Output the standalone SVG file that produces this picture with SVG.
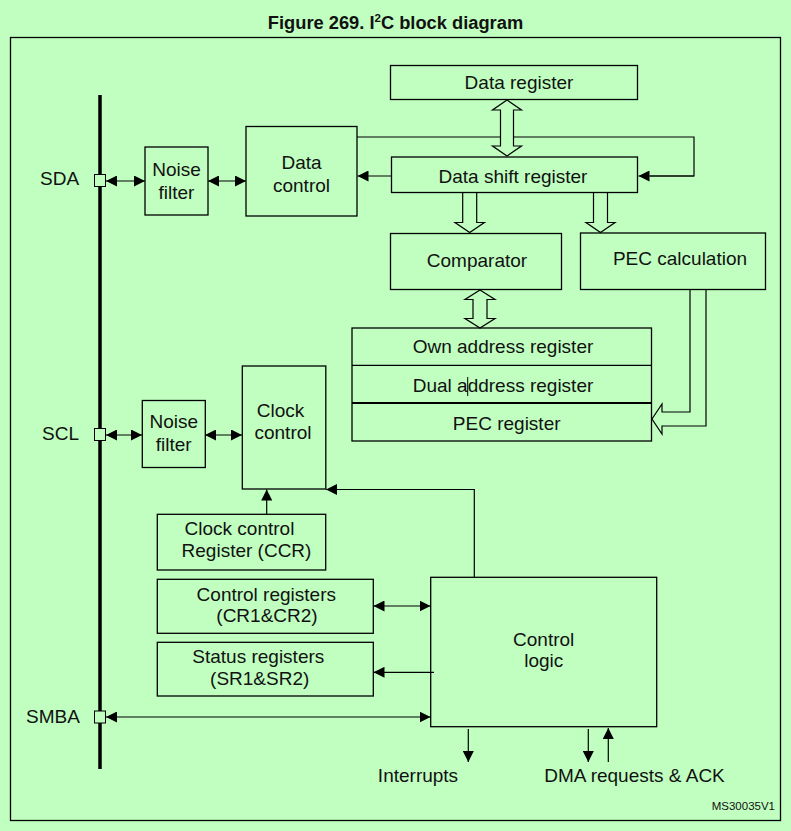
<svg xmlns="http://www.w3.org/2000/svg" width="791" height="831" viewBox="0 0 791 831">
<defs>
<style>
.bx{fill:none;stroke:#000;stroke-width:1.3}
.ln{fill:none;stroke:#000;stroke-width:1.2}
.ha{fill:#C0FFC0;stroke:#000;stroke-width:1.2;stroke-linejoin:miter}
.t{font-family:"Liberation Sans",Arial,sans-serif;font-size:19px;fill:#111;text-anchor:middle}
.l{font-family:"Liberation Sans",Arial,sans-serif;font-size:19px;fill:#111}
.pin{fill:#C0FFC0;stroke:#000;stroke-width:1}
</style>
<marker id="ah" viewBox="0 0 10 10" refX="10" refY="5" markerUnits="userSpaceOnUse" markerWidth="11" markerHeight="11" orient="auto-start-reverse">
<path d="M0,0 L10,5 L0,10 z" fill="#000"/>
</marker>
</defs>
<rect x="0" y="0" width="791" height="831" fill="#C0FFC0"/>
<text x="395.5" y="29.3" style="font-family:'Liberation Sans',Arial,sans-serif;font-size:18.3px;font-weight:bold;text-anchor:middle;fill:#111">Figure 269. I<tspan font-size="11.5" dy="-7.5">2</tspan><tspan dy="7.5">C block diagram</tspan></text>
<rect x="10.5" y="37.5" width="770" height="783" fill="none" stroke="#000" stroke-width="1.3"/>

<g id="bus">
<line x1="100" y1="95" x2="100" y2="769" stroke="#000" stroke-width="3.5"/>
<rect class="pin" x="94.5" y="174.5" width="11" height="12"/>
<rect class="pin" x="94.5" y="428.5" width="11" height="12"/>
<rect class="pin" x="94.5" y="711" width="11" height="12"/>
<text class="l" x="40" y="184.5">SDA</text>
<text class="l" x="42" y="440">SCL</text>
<text class="l" x="26" y="723">SMBA</text>
</g>

<g id="connectors">
<line class="ln" x1="106" y1="181" x2="145" y2="181" marker-start="url(#ah)" marker-end="url(#ah)"/>
<line class="ln" x1="208" y1="181" x2="246" y2="181" marker-start="url(#ah)" marker-end="url(#ah)"/>
<line class="ln" x1="391" y1="176" x2="357.5" y2="176" marker-end="url(#ah)"/>
<polyline class="ln" points="357,137 694,137 694,176 650,176"/>
<line class="ln" x1="694" y1="176" x2="638.5" y2="176" marker-end="url(#ah)"/>
<polygon class="ha" points="507,100 521.5,110 513.5,110 513.5,146 521.5,146 507,156 492.5,146 500.5,146 500.5,110 492.5,110"/>
<polygon class="ha" points="462.7,192.5 462.7,222.5 455,222.5 469.7,232.5 484.4,222.5 476.7,222.5 476.7,192.5"/>
<polygon class="ha" points="593.5,192.5 593.5,222.5 586,222.5 600.5,232.5 615,222.5 607.5,222.5 607.5,192.5"/>
<polygon class="ha" points="480,290 495,299.5 487,299.5 487,318.5 495,318.5 480,328 465,318.5 473,318.5 473,299.5 465,299.5"/>
<polyline class="ha" points="690,289.5 690,412 662,412 662,404 652,419 662,434 662,426 706,426 706,289.5"/>
<line class="ln" x1="106" y1="435" x2="142" y2="435" marker-start="url(#ah)" marker-end="url(#ah)"/>
<line class="ln" x1="205" y1="435" x2="242" y2="435" marker-start="url(#ah)" marker-end="url(#ah)"/>
<line class="ln" x1="266.7" y1="514" x2="266.7" y2="489.5" marker-end="url(#ah)"/>
<polyline class="ln" points="474.3,577 474.3,489.5 336,489.5"/>
<line class="ln" x1="474.3" y1="489.5" x2="326" y2="489.5" marker-end="url(#ah)"/>
<line class="ln" x1="373.5" y1="606" x2="430.5" y2="606" marker-start="url(#ah)" marker-end="url(#ah)"/>
<line class="ln" x1="434" y1="672.3" x2="373.5" y2="672.3" marker-end="url(#ah)"/>
<line class="ln" x1="106" y1="717" x2="430.5" y2="717" marker-start="url(#ah)" marker-end="url(#ah)"/>
<line class="ln" x1="468.3" y1="729" x2="468.3" y2="762" marker-end="url(#ah)"/>
<line class="ln" x1="588.3" y1="729" x2="588.3" y2="762" marker-end="url(#ah)"/>
<line class="ln" x1="608.3" y1="762" x2="608.3" y2="728" marker-end="url(#ah)"/>
</g>

<g id="data-register"><rect class="bx" x="390.5" y="65.5" width="247" height="34"/><text class="t" x="519" y="88.5">Data register</text></g>
<g id="data-shift-register"><rect class="bx" x="391.5" y="157" width="246" height="35.5"/><text class="t" x="513" y="182.5">Data shift register</text></g>
<g id="noise-filter-sda"><rect class="bx" x="145" y="147" width="63" height="68"/><text class="t" x="176.5" y="175.5">Noise</text><text class="t" x="176.5" y="198.5">filter</text></g>
<g id="data-control"><rect class="bx" x="246" y="126.5" width="111" height="89.5"/><text class="t" x="301.5" y="168.5">Data</text><text class="t" x="301.5" y="191.5">control</text></g>
<g id="comparator"><rect class="bx" x="390.5" y="233.5" width="171" height="56"/><text class="t" x="477" y="266.7">Comparator</text></g>
<g id="pec-calculation"><rect class="bx" x="580.5" y="233" width="185" height="56.5"/><text class="t" x="680" y="265">PEC calculation</text></g>
<g id="address-registers">
<rect class="bx" x="352" y="328" width="299.5" height="113"/>
<line class="ln" x1="352" y1="365.3" x2="651.5" y2="365.3"/>
<line x1="352" y1="403" x2="651.5" y2="403" stroke="#000" stroke-width="2"/>
<text class="t" x="503" y="352.7">Own address register</text>
<text class="t" x="503" y="391.7">Dual address register</text>
<line x1="467.7" y1="377" x2="467.7" y2="396" stroke="#000" stroke-width="1"/>
<text class="t" x="506.7" y="430">PEC register</text>
</g>
<g id="noise-filter-scl"><rect class="bx" x="142.3" y="400.5" width="63" height="67"/><text class="t" x="173.7" y="428.3">Noise</text><text class="t" x="173.7" y="450.7">filter</text></g>
<g id="clock-control"><rect class="bx" x="242.3" y="366" width="83.5" height="123"/><text class="t" x="280.5" y="416.7">Clock</text><text class="t" x="283" y="439.3">control</text></g>
<g id="ccr"><rect class="bx" x="157.3" y="514.3" width="168.4" height="55.7"/><text class="t" x="239.5" y="535">Clock control</text><text class="t" x="246.5" y="557.3">Register (CCR)</text></g>
<g id="control-registers"><rect class="bx" x="157.3" y="579.3" width="216" height="54"/><text class="t" x="266.3" y="600.7">Control registers</text><text class="t" x="267" y="621.7">(CR1&amp;CR2)</text></g>
<g id="status-registers"><rect class="bx" x="157.3" y="642.3" width="216" height="53.7"/><text class="t" x="258.3" y="663.3">Status registers</text><text class="t" x="259.7" y="685">(SR1&amp;SR2)</text></g>
<g id="control-logic"><rect class="bx" x="430.7" y="577.3" width="226" height="149.4"/><text class="t" x="543.7" y="645.7">Control</text><text class="t" x="543.7" y="666.5">logic</text></g>
<g id="outputs">
<text class="t" x="418" y="782">Interrupts</text>
<text class="t" x="634.5" y="782">DMA requests &amp; ACK</text>
<text x="775" y="810" style="font-family:'Liberation Sans',Arial,sans-serif;font-size:11.5px;fill:#111;text-anchor:end">MS30035V1</text>
</g>
</svg>
